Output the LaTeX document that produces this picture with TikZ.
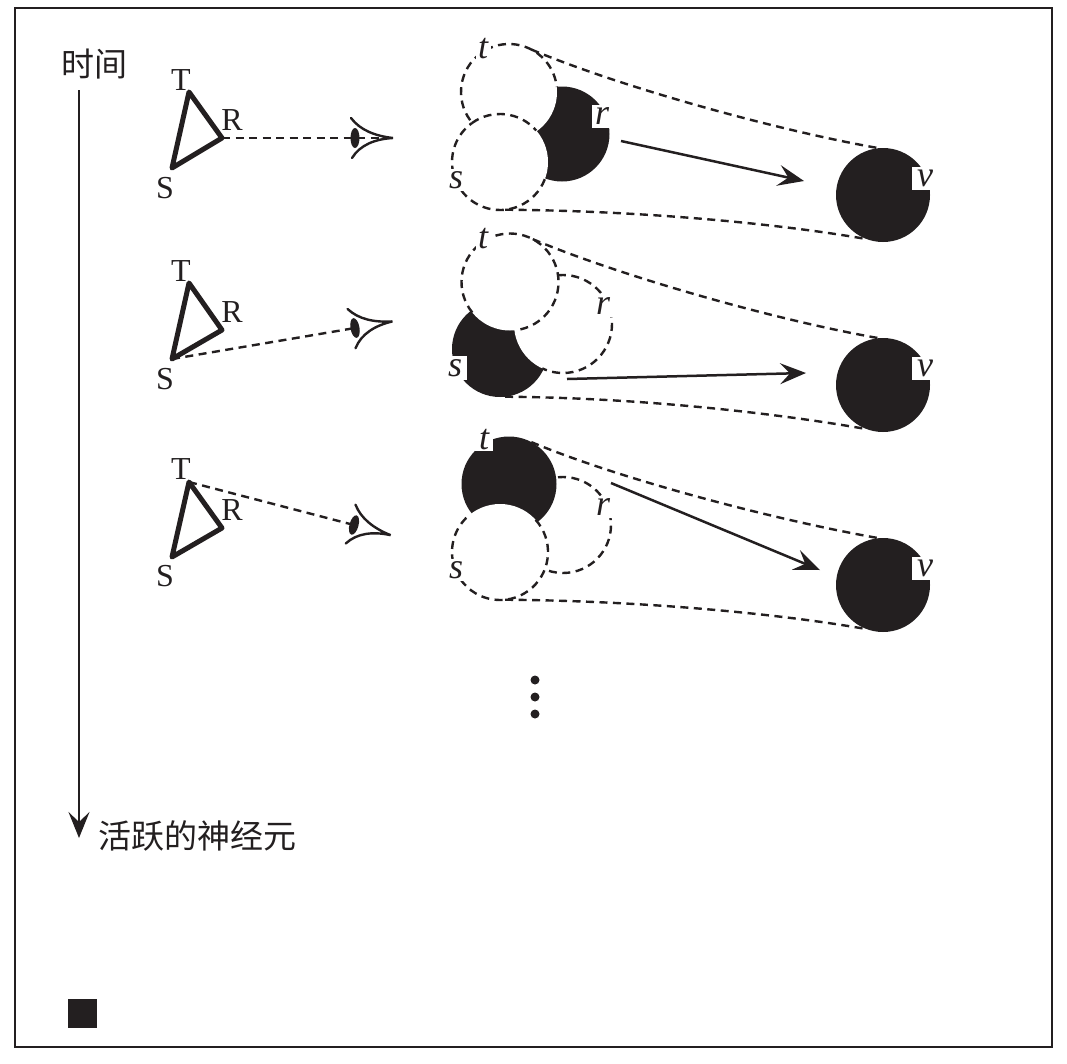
\documentclass[tikz,border=0pt]{standalone}
\usepackage{fontspec}
\setmainfont{Liberation Serif}
\newfontfamily\cjk{Noto Sans CJK SC}
\usetikzlibrary{arrows.meta}
\definecolor{ink}{HTML}{231F20}
\newcommand{\dasharc}[4]{\draw[dashline] (#1) ++(#3:#2) arc[start angle=#3,delta angle=#4,radius=#2];}
\tikzset{
  every node/.style={inner sep=0pt,outer sep=0pt,text=ink},
  dashline/.style={draw=ink,line width=2.4pt,dash pattern=on 8pt off 5.5pt},
  blob/.style={circle,minimum size=#1,inner sep=0pt},
  on/.style={blob=#1,fill=ink},
  off/.style={blob=#1,fill=white},
  vertexlab/.style={font=\fontsize{32}{32}\selectfont},
  cjklab/.style={font=\cjk\fontsize{33}{33}\selectfont},
  lab/.style={font=\itshape\fontsize{36}{36}\selectfont,fill=white,inner sep=2.5pt},
  cutlab/.style 2 args={font=\itshape\fontsize{36}{36}\selectfont,fill=white,minimum width=#1,minimum height=#2},
  tri/.style={draw=ink,line width=5pt,line join=round,line cap=round},
  flow/.style={draw=ink,line width=2.5pt,-{Stealth[length=26pt,width=21pt,inset=10pt]}},
  pics/eyeglyph/.style={code={
    \fill[ink] (0,0) ellipse[x radius=4.5,y radius=10];
    \draw[ink,line width=2.4pt,line cap=round] (-4,-20) .. controls (5,-8) and (20,-2) .. (38,0)
      .. controls (20,1) and (5,7) .. (-3,20);
    \coordinate (-tip) at (38,0);
    \coordinate (-pupil) at (0,0);
  }}
}
\begin{document}
\begin{tikzpicture}[x=1pt,y=-1pt]
\useasboundingbox (0,0) rectangle (1067,1063);
\node[draw=ink,line width=2.4pt,minimum width=1037pt,minimum height=1039pt] (frame) at (533.5,527.5) {};
\node[fill=ink,minimum size=29pt] (sq) at (82.5,1013.5) {};

% time axis
\node[cjklab] (time) at (94,64) {时间};
\node[cjklab] (active) at (197,836) {活跃的神经元};
\coordinate (ta) at (79,90);
\coordinate (tb) at (79,838);
\draw[flow] (ta) -- (tb);

% triangles
\coordinate (T1) at (189,92);  \coordinate (R1) at (222,138); \coordinate (S1) at (172,168);
\coordinate (T2) at (189,283); \coordinate (R2) at (222,330); \coordinate (S2) at (172,359);
\coordinate (T3) at (189,482); \coordinate (R3) at (222,528); \coordinate (S3) at (172,557);
\draw[tri] (T1) -- (R1) -- (S1) -- cycle;
\draw[tri] (T2) -- (R2) -- (S2) -- cycle;
\draw[tri] (T3) -- (R3) -- (S3) -- cycle;
\node[vertexlab] (lT1) at (181,80) {T};  \node[vertexlab] (lR1) at (232,120) {R}; \node[vertexlab] (lS1) at (165,188) {S};
\node[vertexlab] (lT2) at (181,271) {T}; \node[vertexlab] (lR2) at (232,312) {R}; \node[vertexlab] (lS2) at (165,379) {S};
\node[vertexlab] (lT3) at (181,469) {T}; \node[vertexlab] (lR3) at (232,510) {R}; \node[vertexlab] (lS3) at (165,576) {S};

% eyes
\pic (e1) at (355,138) {eyeglyph};
\pic[rotate=10] (e2) at (355,328) {eyeglyph};
\pic[rotate=-15.5] (e3) at (354,525) {eyeglyph};
\draw[dashline] (R1) -- (e1-tip);
\draw[dashline] (S2) -- (e2-pupil);
\draw[dashline] (T3) -- (e3-pupil);

% row 1: r active
\node[on=95pt] (r1) at (562,134) {};
\node[off=96pt] (t1) at (509,92) {};
\node[off=96pt] (s1) at (500,162) {};
\node[on=94pt] (v1) at (883,195) {};
\dasharc{t1}{48}{144}{210}
\dasharc{s1}{48}{234}{85}
\dasharc{s1}{48}{21}{213}
\draw[dashline] (t1.62) .. controls +(88,37) and +(-103,-18) .. (v1.95);
\draw[dashline] (s1.-84) .. controls +(140,1) and +(-85,-15) .. (v1.-110);
\node[lab] (lt1) at (483,49) {t};
\node[lab] (ls1) at (456,180) {s};
\node[cutlab={20pt}{23pt}] (lr1) at (602,116) {r};
\node[cutlab={26pt}{23pt}] (lv1) at (925,178) {v};
\coordinate (a1) at (621,141); \coordinate (b1) at (804,181);
\draw[flow] (a1) -- (b1);

% row 2: s active
\node[on=96pt] (s2) at (500,349) {};
\node[off=98pt] (r2) at (563,324) {};
\node[off=97pt] (t2) at (510,282) {};
\node[on=94pt] (v2) at (883,385) {};
\dasharc{t2}{48.5}{141}{303}
\dasharc{r2}{49}{264}{211}
\draw[dashline] (t2.62) .. controls +(88,37) and +(-103,-18) .. (v2.95);
\draw[dashline] (s2.-84) .. controls +(140,1) and +(-85,-15) .. (v2.-110);
\node[lab] (lt2) at (483,239) {t};
\node[lab] (lr2) at (603,306) {r};
\node[cutlab={24pt}{24pt}] (ls2) at (455,368) {s};
\node[cutlab={26pt}{23pt}] (lv2) at (925,368) {v};
\coordinate (a2) at (567,379); \coordinate (b2) at (806,373);
\draw[flow] (a2) -- (b2);

% row 3: t active
\node[off=96pt] (r3) at (563,525) {};
\node[on=95pt] (t3) at (509,484) {};
\node[off=96pt] (s3) at (500,552) {};
\node[on=94pt] (v3) at (883,585) {};
\dasharc{r3}{48}{264}{206}
\dasharc{s3}{48}{318}{271}
\draw[dashline] (t3.62) .. controls +(88,37) and +(-103,-18) .. (v3.95);
\draw[dashline] (s3.-84) .. controls +(140,1) and +(-85,-15) .. (v3.-110);
\node[cutlab={18pt}{22pt}] (lt3) at (484,440) {t};
\node[lab] (lr3) at (603,507) {r};
\node[lab] (ls3) at (456,570) {s};
\node[cutlab={26pt}{23pt}] (lv3) at (925,568) {v};
\coordinate (a3) at (611,483); \coordinate (b3) at (820,570);
\draw[flow] (a3) -- (b3);

% ellipsis
\node[circle,fill=ink,minimum size=9pt] (d1) at (535,680) {};
\node[circle,fill=ink,minimum size=9pt] (d2) at (535,697) {};
\node[circle,fill=ink,minimum size=9pt] (d3) at (535,714) {};
\end{tikzpicture}
\end{document}
